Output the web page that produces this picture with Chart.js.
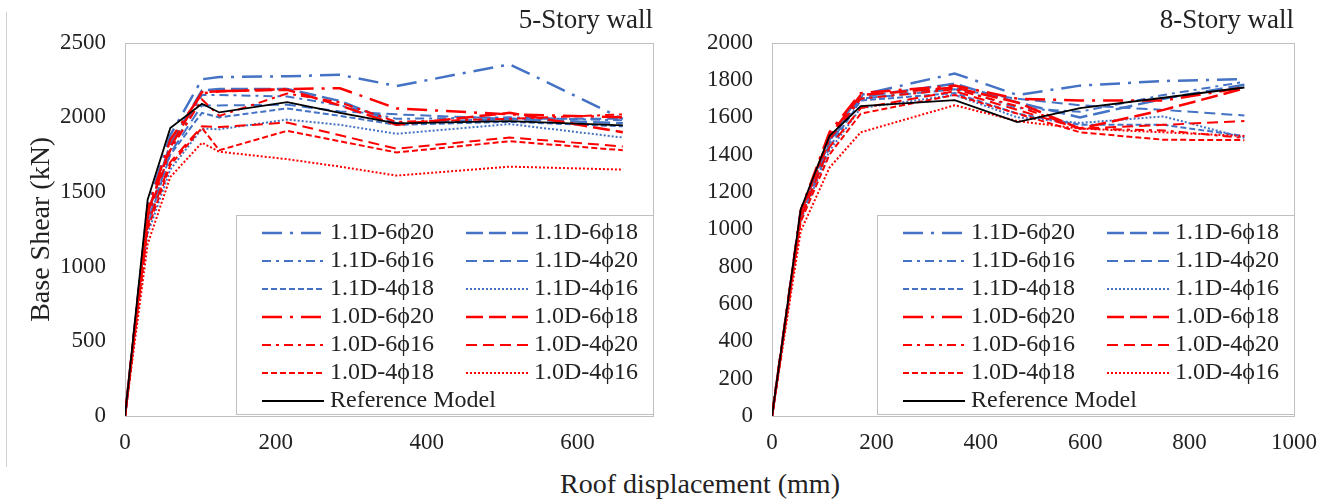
<!DOCTYPE html>
<html>
<head>
<meta charset="utf-8">
<script src="https://cdn.jsdelivr.net/npm/chart.js@4.4.0/dist/chart.umd.min.js"></script>
<style>
body{margin:0;background:#fff;width:1330px;height:501px;overflow:hidden;position:relative;font-family:'Liberation Serif','Times New Roman',serif}
#c5{position:absolute;left:0;top:0}
#c8{position:absolute;left:665px;top:0}
#xt{position:absolute;left:0;width:1400px;top:468px;text-align:center;font-size:28px;color:#222}
#edge{position:absolute;left:6px;top:12px;height:455px;border-left:1px solid #d0d0d0}
</style>
</head>
<body>
<div id="edge"></div>
<canvas id="c5" width="665" height="460"></canvas>
<canvas id="c8" width="665" height="460"></canvas>
<div id="xt">Roof displacement (mm)</div>
<script>
// series names (same order in both plots)
const seriesLabels = ["1.1D-6ϕ20","1.1D-6ϕ18","1.1D-6ϕ16","1.1D-4ϕ20","1.1D-4ϕ18","1.1D-4ϕ16",
  "1.0D-6ϕ20","1.0D-6ϕ18","1.0D-6ϕ16","1.0D-4ϕ20","1.0D-4ϕ18","1.0D-4ϕ16","Reference Model"]

// 5-story wall: roof displacement (mm) and base shear (kN)
const disp5 = [0, 30, 60, 102, 125, 215, 285, 360, 510, 660]
const s5_11D_6f20 = [0, 1400, 1880, 2255, 2270, 2275, 2285, 2210, 2355, 1990]
const s5_11D_6f18 = [0, 1350, 1820, 2180, 2190, 2190, 2110, 1960, 1990, 1960]
const s5_11D_6f16 = [0, 1330, 1780, 2150, 2150, 2140, 2080, 1990, 2000, 1980]
const s5_11D_4f20 = [0, 1300, 1760, 2080, 2080, 2085, 2040, 2020, 1990, 1990]
const s5_11D_4f18 = [0, 1280, 1750, 2030, 2000, 2060, 2010, 1950, 1970, 1940]
const s5_11D_4f16 = [0, 1220, 1650, 1925, 1920, 1985, 1950, 1890, 1955, 1865]
const s5_10D_6f20 = [0, 1380, 1850, 2160, 2175, 2190, 2195, 2060, 2020, 2000]
const s5_10D_6f18 = [0, 1360, 1800, 2170, 2175, 2185, 2080, 1950, 2030, 1900]
const s5_10D_6f16 = [0, 1330, 1780, 2120, 2010, 2160, 2100, 1970, 1990, 2020]
const s5_10D_4f20 = [0, 1280, 1700, 1940, 1935, 1965, 1880, 1790, 1865, 1805]
const s5_10D_4f18 = [0, 1250, 1680, 1930, 1780, 1910, 1840, 1765, 1840, 1780]
const s5_10D_4f16 = [0, 1150, 1600, 1830, 1770, 1720, 1670, 1610, 1670, 1650]
const s5_ref      = [0, 1448, 1928, 2091, 2033, 2102, 2030, 1960, 1975, 1946]

// 8-story wall
const disp8 = [0, 55, 110, 170, 350, 470, 590, 750, 905]
const s8_11D_6f20 = [0, 1100, 1500, 1720, 1835, 1720, 1770, 1795, 1805]
const s8_11D_6f18 = [0, 1090, 1480, 1710, 1780, 1680, 1600, 1700, 1775]
const s8_11D_6f16 = [0, 1080, 1470, 1700, 1760, 1650, 1630, 1720, 1790]
const s8_11D_4f20 = [0, 1070, 1460, 1700, 1750, 1700, 1665, 1640, 1610]
const s8_11D_4f18 = [0, 1060, 1440, 1690, 1730, 1620, 1560, 1560, 1500]
const s8_11D_4f16 = [0, 1050, 1420, 1650, 1720, 1600, 1570, 1605, 1490]
const s8_10D_6f20 = [0, 1100, 1520, 1730, 1770, 1700, 1690, 1690, 1760]
const s8_10D_6f18 = [0, 1090, 1500, 1720, 1760, 1680, 1540, 1640, 1755]
const s8_10D_6f16 = [0, 1080, 1480, 1700, 1750, 1660, 1540, 1530, 1490]
const s8_10D_4f20 = [0, 1060, 1440, 1650, 1740, 1640, 1540, 1560, 1580]
const s8_10D_4f18 = [0, 1040, 1400, 1620, 1720, 1620, 1520, 1480, 1478]
const s8_10D_4f16 = [0, 990, 1330, 1520, 1665, 1580, 1540, 1520, 1500]
const s8_ref      = [0, 1107, 1500, 1660, 1692, 1575, 1650, 1705, 1760]

const FONT = "'Liberation Serif','Times New Roman',serif"
const BLUE = "#4472C4", RED = "#FF0000"

// line styles by bar layout (6ϕ20, 6ϕ18, 6ϕ16, 4ϕ20, 4ϕ18, 4ϕ16)
const dashes = [[20,8,3,8],[17,6],[9,5,3,5],[11,6],[6,3],[2,2]]
const widths = [2.5,2.5,2,2,2,2]

function styleFor(i){
if(i==12) return {borderColor:"#000",borderWidth:1.8,borderDash:[]}
return {borderColor:i<6?BLUE:RED,borderWidth:widths[i%6],borderDash:dashes[i%6]}
}

function buildSets(disp,lists){
return lists.map((vals,i)=>Object.assign({
label:seriesLabels[i],
data:vals.map((v,k)=>({x:disp[k],y:v})),
pointRadius:0,
tension:0,
fill:false,
order:12-i
},styleFor(i)))
}

// legend box inside the plot, lower right
const boxLegend={
id:"boxLegend",
afterDraw(chart,args,opts){
const ctx=chart.ctx,a=chart.chartArea
const left=a.right-opts.width,top=a.bottom-opts.bottomGap-opts.height
ctx.save()
ctx.fillStyle="#fff"
ctx.fillRect(left,top,opts.width,opts.height)
ctx.strokeStyle="#bfbfbf"
ctx.lineWidth=1
ctx.strokeRect(Math.round(left)+0.5,Math.round(top)+0.5,opts.width,opts.height)
ctx.font="24px "+FONT
ctx.textBaseline="middle"
chart.data.datasets.forEach((ds,i)=>{
const col=i%2,row=Math.floor(i/2)
const x0=left+opts.colX[col],y=top+opts.firstRow+row*opts.rowGap
ctx.strokeStyle=ds.borderColor
ctx.lineWidth=ds.borderWidth
ctx.setLineDash(ds.borderDash)
ctx.beginPath()
ctx.moveTo(x0,y)
ctx.lineTo(x0+opts.sample,y)
ctx.stroke()
ctx.setLineDash([])
ctx.fillStyle="#222"
ctx.fillText(ds.label,x0+opts.sample+6,y)
})
ctx.restore()
}
}

// grey frame round the plot area
const plotFrame={
id:"plotFrame",
beforeDatasetsDraw(chart){
const ctx=chart.ctx,a=chart.chartArea
ctx.save()
ctx.strokeStyle="#bfbfbf"
ctx.lineWidth=1
ctx.strokeRect(Math.round(a.left)+0.5,Math.round(a.top)+0.5,Math.round(a.right-a.left),Math.round(a.bottom-a.top))
ctx.restore()
}
}

function makeChart(id,title,sets,xMax,yMax,yStep,yTitle,yWidth,rightPad){
return new Chart(document.getElementById(id),{
type:"line",
data:{datasets:sets},
plugins:[plotFrame,boxLegend],
options:{
responsive:false,
animation:false,
layout:{padding:{left:0,right:rightPad,top:0,bottom:0}},
plugins:{
legend:{display:false},
tooltip:{enabled:false},
title:{display:true,text:title,align:"end",fullSize:false,color:"#222",
font:{family:FONT,size:27,weight:"normal",lineHeight:1.1},padding:{top:6,bottom:7}},
boxLegend:{width:417,height:199,bottomGap:2,colX:[26,230],sample:62,firstRow:18,rowGap:28}
},
scales:{
x:{
type:"linear",min:0,max:xMax,
grid:{display:false,drawTicks:false},
border:{display:false},
ticks:{stepSize:200,padding:13,color:"#222",font:{family:FONT,size:23},callback:v=>String(v)},
afterBuildTicks(s){s.ticks=s.ticks.filter(t=>t.value%200==0)},
afterFit(s){s.height=44}
},
y:{
min:0,max:yMax,
grid:{display:false,drawTicks:false},
border:{display:false},
ticks:{stepSize:yStep,padding:19,color:"#222",font:{family:FONT,size:23},callback:v=>String(v)},
title:{display:!!yTitle,text:yTitle,color:"#222",font:{family:FONT,size:28},padding:{top:25,bottom:0}},
afterFit(s){s.width=yWidth}
}
}
}
})
}

makeChart("c5","5-Story wall",
buildSets(disp5,[s5_11D_6f20,s5_11D_6f18,s5_11D_6f16,s5_11D_4f20,s5_11D_4f18,s5_11D_4f16,
s5_10D_6f20,s5_10D_6f18,s5_10D_6f16,s5_10D_4f20,s5_10D_4f18,s5_10D_4f16,s5_ref]),
700,2500,500,"Base Shear (kN)",125,12)

makeChart("c8","8-Story wall",
buildSets(disp8,[s8_11D_6f20,s8_11D_6f18,s8_11D_6f16,s8_11D_4f20,s8_11D_4f18,s8_11D_4f16,
s8_10D_6f20,s8_10D_6f18,s8_10D_6f16,s8_10D_4f20,s8_10D_4f18,s8_10D_4f16,s8_ref]),
1000,2000,200,"",107,32)
</script>
</body>
</html>
